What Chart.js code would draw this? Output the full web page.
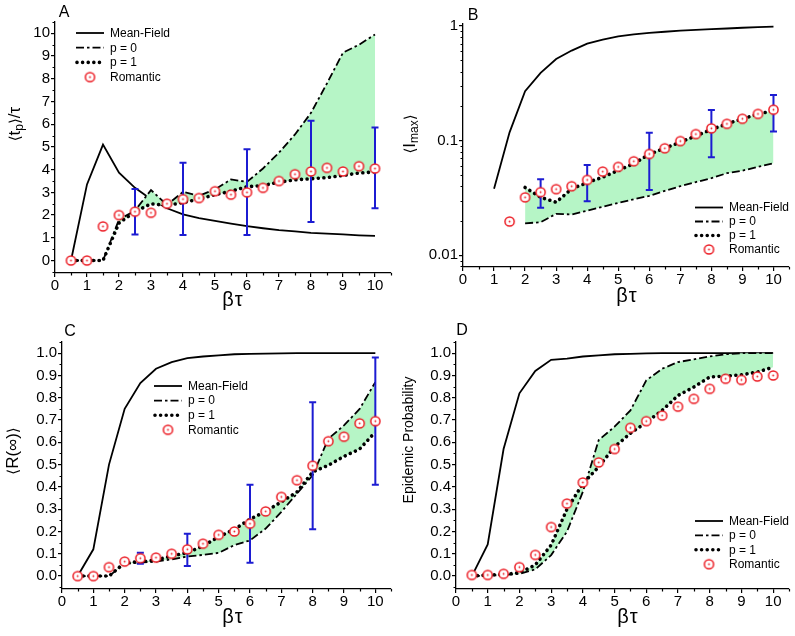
<!DOCTYPE html>
<html>
<head>
<meta charset="utf-8">
<script src="https://cdn.jsdelivr.net/npm/chart.js@4.4.1/dist/chart.umd.min.js"></script>
<style>
  body { margin: 0; background: #fff; width: 795px; height: 636px; position: relative; overflow: hidden;
         font-family: "Liberation Sans", Arial, sans-serif; color: #000; }
  canvas { position: absolute; }
  .letter { position: absolute; font-size: 16px; transform: translate(-50%, -50%); }
  .xt { position: absolute; font-size: 20px; letter-spacing: 1px; transform: translate(-50%, -50%); white-space: nowrap; }
  .yt { position: absolute; font-size: 17px; transform: translate(-50%, -50%) rotate(-90deg); white-space: nowrap; }
  .yt sub { font-size: 12px; vertical-align: -3px; }
  .ang { font-family: "DejaVu Sans", sans-serif; font-size: 15px; }
</style>
</head>
<body>
<canvas id="chartA" width="397" height="315" style="left:0;top:0"></canvas>
<canvas id="chartB" width="398" height="315" style="left:397px;top:0"></canvas>
<canvas id="chartC" width="397" height="321" style="left:0;top:315px"></canvas>
<canvas id="chartD" width="398" height="321" style="left:397px;top:315px"></canvas>

<div class="letter" style="left:64px;top:12px">A</div>
<div class="letter" style="left:473px;top:15px">B</div>
<div class="letter" style="left:70px;top:331px">C</div>
<div class="letter" style="left:462px;top:330px">D</div>

<div class="xt" style="left:233px;top:299px">βτ</div>
<div class="xt" style="left:627px;top:295px">βτ</div>
<div class="xt" style="left:233px;top:616px">βτ</div>
<div class="xt" style="left:628px;top:616px">βτ</div>

<div class="yt" style="left:15px;top:124px"><span class="ang">⟨</span>t<sub>p</sub><span class="ang">⟩</span>/τ</div>
<div class="yt" style="left:410px;top:134px"><span class="ang">⟨</span>I<sub>max</sub><span class="ang">⟩</span></div>
<div class="yt" style="left:13px;top:451px"><span class="ang">⟨</span>R(∞)<span class="ang">⟩</span></div>
<div class="yt" style="left:408px;top:440px;font-size:14px">Epidemic Probability</div>

<script>
// valeurs, beta*tau de 0.5 a 10
const betaTau = [0.5, 1, 1.5, 2, 2.5, 3, 3.5, 4, 4.5, 5, 5.5, 6, 6.5, 7, 7.5, 8, 8.5, 9, 9.5, 10];
const errX = [2.5, 4, 6, 8, 10];

// A : <t_p>/tau
const mfA  = [0, 3.35, 5.1, 3.87, 3.2, 2.7, 2.3, 2.03, 1.87, 1.74, 1.62, 1.51, 1.42, 1.34, 1.28, 1.22, 1.18, 1.15, 1.11, 1.08];
const p0A  = [0, 0, 0, 1.8, 2.2, 3.1, 2.45, 3.02, 2.85, 3.13, 3.57, 3.46, 4.05, 4.75, 5.55, 6.5, 7.8, 9.15, 9.5, 9.95];
const p1A  = [0, 0, 0, 1.65, 2.15, 2.5, 2.42, 2.55, 2.7, 2.9, 3.05, 3.25, 3.3, 3.45, 3.55, 3.6, 3.65, 3.75, 3.85, 3.9];
const romA = [0, 0, 1.5, 2.0, 2.15, 2.1, 2.5, 2.7, 2.75, 3.05, 2.9, 3.0, 3.2, 3.5, 3.8, 3.92, 4.08, 3.92, 4.15, 4.05];
const errLoA = [1.15, 1.12, 1.12, 1.7, 2.3];
const errHiA = [3.15, 4.3, 4.9, 6.15, 5.85];

// B : <I_max>
const mfB  = [null, 0.038, 0.118, 0.27, 0.39, 0.515, 0.61, 0.70, 0.76, 0.81, 0.845, 0.87, 0.89, 0.91, 0.925, 0.94, 0.95, 0.965, 0.975, 0.985];
const p0B  = [null, null, null, 0.019, 0.0194, 0.023, 0.0227, 0.0245, 0.0265, 0.0286, 0.0308, 0.033, 0.0365, 0.040, 0.0435, 0.047, 0.052, 0.0547, 0.059, 0.0634];
const p1B  = [null, null, null, 0.039, 0.032, 0.029, 0.038, 0.043, 0.048, 0.055, 0.063, 0.076, 0.086, 0.097, 0.11, 0.125, 0.14, 0.155, 0.17, 0.183];
const romB = [null, null, 0.0197, 0.032, 0.0355, 0.0377, 0.040, 0.0454, 0.0537, 0.059, 0.066, 0.0765, 0.0857, 0.099, 0.114, 0.128, 0.14, 0.155, 0.171, 0.186];
const errLoB = [0.026, 0.0296, 0.037, 0.0716, 0.12];
const errHiB = [0.046, 0.0614, 0.117, 0.185, 0.25];

// C : <R(inf)>
const mfC  = [0, 0.12, 0.5, 0.75, 0.866, 0.93, 0.96, 0.978, 0.985, 0.99, 0.995, 0.997, 0.998, 0.999, 1, 1, 1, 1, 1, 1];
const p0C  = [0, 0, 0, 0.055, 0.06, 0.065, 0.075, 0.088, 0.095, 0.104, 0.139, 0.16, 0.213, 0.288, 0.37, 0.452, 0.616, 0.676, 0.75, 0.87];
const p1C  = [0, 0, 0, 0.06, 0.064, 0.072, 0.09, 0.105, 0.135, 0.176, 0.21, 0.255, 0.29, 0.333, 0.377, 0.467, 0.497, 0.537, 0.57, 0.646];
const romC = [0, 0, 0.04, 0.065, 0.08, 0.083, 0.1, 0.12, 0.145, 0.185, 0.2, 0.235, 0.29, 0.355, 0.43, 0.495, 0.605, 0.625, 0.685, 0.695];
const errLoC = [0.055, 0.045, 0.06, 0.21, 0.41];
const errHiC = [0.105, 0.19, 0.41, 0.78, 0.98];

// D : probabilite d'epidemie
const mfD  = [0, 0.142, 0.57, 0.82, 0.92, 0.97, 0.975, 0.985, 0.99, 0.995, 0.997, 0.999, 1, 1, 1, 1, 1, 1, 1, 1];
const p0D  = [0, 0.002, 0.005, 0.01, 0.03, 0.094, 0.2, 0.378, 0.61, 0.67, 0.743, 0.878, 0.93, 0.96, 0.972, 0.985, 0.995, 1, 1, 1];
const p1D  = [0, 0.005, 0.007, 0.015, 0.05, 0.139, 0.3, 0.415, 0.49, 0.58, 0.64, 0.69, 0.743, 0.81, 0.848, 0.893, 0.897, 0.903, 0.915, 0.937];
const romD = [0.005, 0.005, 0.01, 0.04, 0.095, 0.22, 0.325, 0.42, 0.51, 0.57, 0.665, 0.695, 0.72, 0.76, 0.795, 0.84, 0.885, 0.88, 0.895, 0.9];

// graduations
const xTicks = [0, 1, 2, 3, 4, 5, 6, 7, 8, 9, 10];
const yTicksA = [0, 1, 2, 3, 4, 5, 6, 7, 8, 9, 10];
const yTicksB = [0.01, 0.1, 1];
const yTicksCD = [0, 0.1, 0.2, 0.3, 0.4, 0.5, 0.6, 0.7, 0.8, 0.9, 1.0];
const legendLabels = ['Mean-Field', 'p = 0', 'p = 1', 'Romantic'];

const RED = '#ec1c24';
const BLUE = '#1c1cd2';
const GREEN = '#b6f5c6';

function ringImage() {
    const c = document.createElement('canvas');
    c.width = 13; c.height = 13;
    const g = c.getContext('2d');
    g.fillStyle = '#fff';
    g.strokeStyle = RED;
    g.lineWidth = 1.5;
    g.beginPath(); g.arc(6.5, 6.5, 4.6, 0, Math.PI * 2); g.fill(); g.stroke();
    g.fillStyle = RED;
    g.beginPath(); g.arc(6.5, 6.5, 0.9, 0, Math.PI * 2); g.fill();
    return c;
}
const ring = ringImage();

function pts(ys) {
    return betaTau.map((x, i) => ({ x: x, y: ys[i] }));
}

function range(a, b, step) {
    let out = [];
    for (let v = a; v <= b + 1e-9; v += step) out.push(+v.toFixed(4));
    return out;
}

// petites graduations
const minorTicks = {
    id: 'minorTicks',
    afterDraw(chart, args, opts) {
        const ctx = chart.ctx, xs = chart.scales.x, ys = chart.scales.y;
        ctx.save();
        ctx.strokeStyle = '#000';
        ctx.lineWidth = 1.2;
        ctx.beginPath();
        (opts.x || []).forEach(v => {
            const px = Math.round(xs.getPixelForValue(v)) + 0.5;
            ctx.moveTo(px, xs.top); ctx.lineTo(px, xs.top + 2.5);
        });
        (opts.y || []).forEach(v => {
            const py = Math.round(ys.getPixelForValue(v)) + 0.5;
            ctx.moveTo(ys.right, py); ctx.lineTo(ys.right - 2.5, py);
        });
        ctx.stroke();
        ctx.restore();
    }
};

// barres d'erreur bleues, dessinees avant les cercles
const errorBars = {
    id: 'errorBars',
    afterDatasetDraw(chart, args, opts) {
        if (args.index !== 1 || !opts.lo) return;
        const ctx = chart.ctx, xs = chart.scales.x, ys = chart.scales.y;
        ctx.save();
        ctx.strokeStyle = BLUE;
        ctx.lineWidth = 2;
        ctx.beginPath();
        errX.forEach((x, i) => {
            const px = xs.getPixelForValue(x);
            const a = ys.getPixelForValue(opts.lo[i]);
            const b = ys.getPixelForValue(opts.hi[i]);
            ctx.moveTo(px, a); ctx.lineTo(px, b);
            ctx.moveTo(px - 3.5, a); ctx.lineTo(px + 3.5, a);
            ctx.moveTo(px - 3.5, b); ctx.lineTo(px + 3.5, b);
        });
        ctx.stroke();
        ctx.restore();
    }
};

// legende dessinee a la main (traits mixtes)
const styleLegend = {
    id: 'styleLegend',
    afterDraw(chart, args, opts) {
        const ctx = chart.ctx;
        const x0 = opts.x, x1 = opts.x + 28;
        ctx.save();
        ctx.font = '12px "Liberation Sans", Arial, sans-serif';
        ctx.textBaseline = 'middle';
        ctx.fillStyle = '#000';
        legendLabels.forEach((lab, i) => {
            const y = opts.y + i * opts.step;
            ctx.strokeStyle = '#000';
            ctx.lineCap = 'butt';
            ctx.setLineDash([]);
            if (i === 0) {
                ctx.lineWidth = 1.8;
                ctx.beginPath(); ctx.moveTo(x0, y); ctx.lineTo(x1, y); ctx.stroke();
            } else if (i === 1) {
                ctx.lineWidth = 1.8;
                ctx.setLineDash([8, 3, 2.5, 3]);
                ctx.beginPath(); ctx.moveTo(x0, y); ctx.lineTo(x1, y); ctx.stroke();
            } else if (i === 2) {
                ctx.lineWidth = 3.6;
                ctx.lineCap = 'round';
                ctx.setLineDash([0.01, 5.6]);
                ctx.beginPath(); ctx.moveTo(x0 + 1, y); ctx.lineTo(x1, y); ctx.stroke();
            } else {
                ctx.drawImage(ring, (x0 + x1) / 2 - 6.5, y - 6.5);
            }
            ctx.setLineDash([]);
            ctx.fillText(lab, x1 + 6, y + 0.5);
        });
        ctx.restore();
    }
};

function makeChart(id, cfg) {
    const datasets = [
        {
            label: 'Romantic', data: pts(cfg.rom), showLine: false,
            pointStyle: ring, pointRadius: 5, pointHoverRadius: 5
        },
        {
            label: 'p = 1', data: pts(cfg.p1), borderColor: '#000', borderWidth: 3.6,
            borderDash: [0.01, 5.6], borderCapStyle: 'round', pointRadius: 0, fill: false
        },
        {
            label: 'p = 0', data: pts(cfg.p0), borderColor: '#000', borderWidth: 1.8,
            borderDash: [8, 3, 2.5, 3], pointRadius: 0, fill: { target: 1 }, backgroundColor: GREEN
        },
        {
            label: 'Mean-Field', data: pts(cfg.mf), borderColor: '#000', borderWidth: 1.8,
            pointRadius: 0, fill: false
        }
    ];

    const yScale = {
        type: cfg.log ? 'logarithmic' : 'linear',
        min: cfg.ymin, max: cfg.ymax,
        afterBuildTicks: s => { s.ticks = cfg.yTicks.map(v => ({ value: v })); },
        afterFit: s => { s.width = cfg.yw; },
        ticks: {
            color: '#000', padding: 1,
            font: { family: '"Liberation Sans", Arial, sans-serif', size: 15 },
            callback: v => cfg.yfmt(v)
        },
        grid: { drawOnChartArea: false, drawTicks: true, tickLength: 4, color: '#000', lineWidth: 1.2 },
        border: { display: true, color: '#000', width: 1.3 }
    };

    return new Chart(document.getElementById(id), {
        type: 'line',
        data: { datasets: datasets },
        options: {
            responsive: false,
            animation: false,
            devicePixelRatio: 1,
            layout: { padding: { top: cfg.top, right: cfg.right, left: 0, bottom: 0 } },
            scales: {
                x: {
                    type: 'linear', min: 0, max: 10.5,
                    afterBuildTicks: s => { s.ticks = xTicks.map(v => ({ value: v })); },
                    afterFit: s => { s.height = cfg.xh; },
                    ticks: {
                        color: '#000', padding: 0, maxRotation: 0,
                        font: { family: '"Liberation Sans", Arial, sans-serif', size: 15 }
                    },
                    grid: { drawOnChartArea: false, drawTicks: true, tickLength: 4, color: '#000', lineWidth: 1.2 },
                    border: { display: true, color: '#000', width: 1.3 }
                },
                y: yScale
            },
            plugins: {
                legend: { display: false },
                tooltip: { enabled: false },
                minorTicks: { x: range(0.5, 10.5, 1), y: cfg.minorY },
                errorBars: { lo: cfg.errLo, hi: cfg.errHi },
                styleLegend: cfg.legend
            }
        },
        plugins: [minorTicks, errorBars, styleLegend]
    });
}

const minorLog = [0.008, 0.009].concat(range(0.02, 0.09, 0.01), range(0.2, 0.9, 0.1));

makeChart('chartA', {
    mf: mfA, p0: p0A, p1: p1A, rom: romA, errLo: errLoA, errHi: errHiA,
    ymin: -0.55, ymax: 10.5, yTicks: yTicksA, yfmt: v => String(v),
    minorY: range(-0.5, 10.5, 1),
    yw: 55, xh: 42, top: 22, right: 3,
    legend: { x: 76, y: 33, step: 14.7 }
});

makeChart('chartB', {
    mf: mfB, p0: p0B, p1: p1B, rom: romB, errLo: errLoB, errHi: errHiB, log: true,
    ymin: 0.0079, ymax: 1.04, yTicks: yTicksB, yfmt: v => String(v),
    minorY: minorLog,
    yw: 66, xh: 48, top: 24, right: 5,
    legend: { x: 298, y: 207.5, step: 14 }
});

makeChart('chartC', {
    mf: mfC, p0: p0C, p1: p1C, rom: romC, errLo: errLoC, errHi: errHiC,
    ymin: -0.058, ymax: 1.05, yTicks: yTicksCD, yfmt: v => v.toFixed(1),
    minorY: range(0.05, 1.05, 0.1).concat([-0.05]),
    yw: 62, xh: 47, top: 27, right: 3,
    legend: { x: 154, y: 71, step: 14.6 }
});

makeChart('chartD', {
    mf: mfD, p0: p0D, p1: p1D, rom: romD, errLo: null, errHi: null,
    ymin: -0.058, ymax: 1.05, yTicks: yTicksCD, yfmt: v => v.toFixed(1),
    minorY: range(0.05, 1.05, 0.1).concat([-0.05]),
    yw: 59, xh: 47, top: 27, right: 5,
    legend: { x: 298, y: 206, step: 14.4 }
});
</script>
</body>
</html>
